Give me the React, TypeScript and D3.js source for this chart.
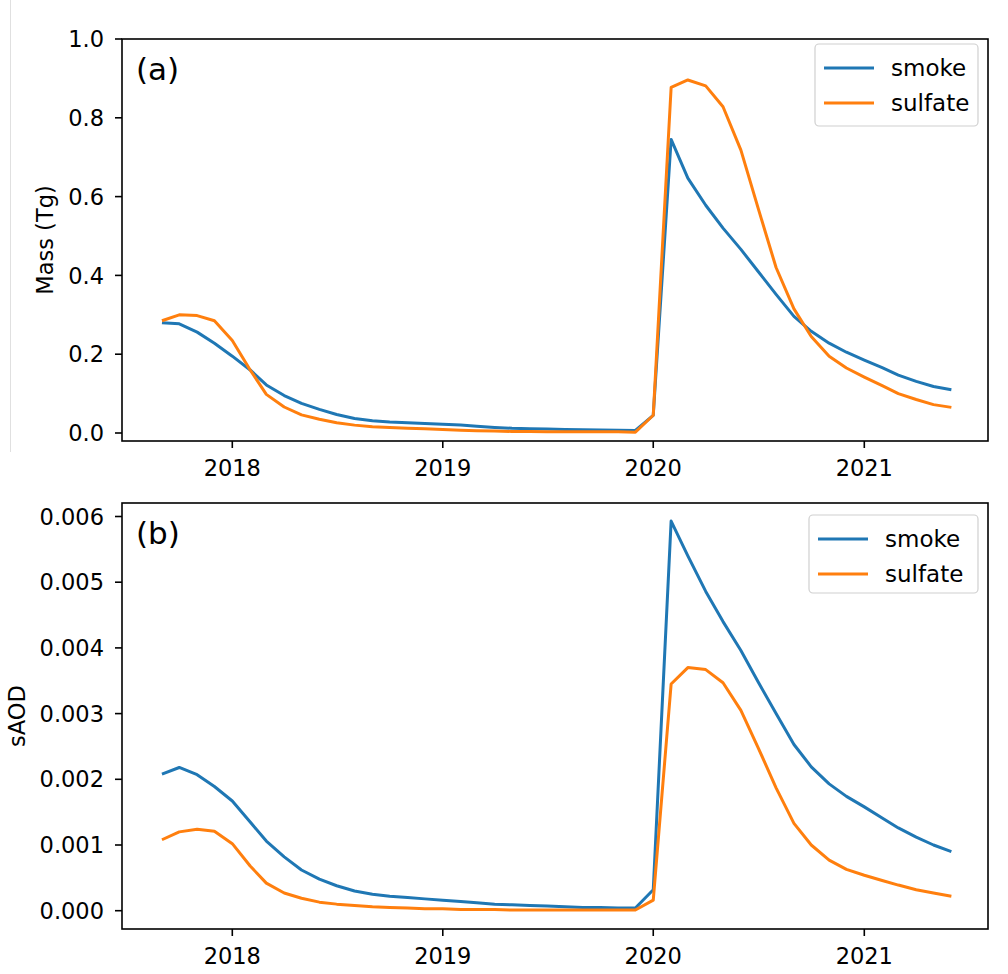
import * as d3 from "d3";
import React from "react";

// monthly values, Sep 2017 .. Jun 2021
const months = d3.timeMonths(new Date(2017, 8, 1), new Date(2021, 6, 1));

const massSmoke = [
  0.28, 0.277, 0.256, 0.228, 0.195, 0.16, 0.122, 0.095, 0.075, 0.06, 0.047, 0.037,
  0.031, 0.028, 0.026, 0.024, 0.022, 0.02, 0.017, 0.014, 0.012, 0.011, 0.01, 0.009,
  0.008, 0.0075, 0.007, 0.0065, 0.045, 0.745, 0.647, 0.578, 0.52, 0.466, 0.41, 0.352,
  0.296, 0.258, 0.228, 0.205, 0.185, 0.166, 0.147, 0.131, 0.118, 0.11,
];
const massSulfate = [
  0.285, 0.3, 0.298, 0.285, 0.235, 0.16, 0.098, 0.066, 0.046, 0.035, 0.026, 0.02,
  0.016, 0.014, 0.012, 0.011, 0.009, 0.007, 0.006, 0.005, 0.004, 0.004, 0.003, 0.003,
  0.003, 0.003, 0.003, 0.002, 0.045, 0.877, 0.896, 0.881, 0.828, 0.718, 0.57, 0.42,
  0.315, 0.245, 0.195, 0.165, 0.142, 0.12, 0.1, 0.085, 0.072, 0.065,
];
const aodSmoke = [
  0.00208, 0.00218, 0.00207, 0.00189, 0.00167, 0.00135, 0.00106, 0.00082, 0.00062,
  0.00048, 0.00038, 0.0003, 0.00025, 0.00022, 0.0002, 0.00018, 0.00016, 0.00014,
  0.00012, 0.0001, 0.00009, 0.00008, 0.00007, 0.00006, 0.00005, 0.00005, 0.00004,
  0.00004, 0.00032, 0.00593, 0.0054, 0.00486, 0.0044, 0.00396, 0.00348, 0.003,
  0.00253, 0.00219, 0.00193, 0.00174, 0.00158, 0.00141, 0.00126, 0.00112, 0.001, 0.0009,
];
const aodSulfate = [
  0.00108, 0.0012, 0.00124, 0.00121, 0.00102, 0.00068, 0.00042, 0.00027, 0.00019,
  0.00013, 0.0001, 0.00008, 0.00006, 0.00005, 0.00004, 0.00003, 0.00003, 0.00002,
  0.00002, 0.00002, 0.00001, 0.00001, 0.00001, 0.00001, 0.00001, 0.00001, 0.00001,
  0.00001, 0.00016, 0.00345, 0.0037, 0.00367, 0.00347, 0.00305, 0.00248, 0.00187,
  0.00133, 0.001, 0.00077, 0.00063, 0.00054, 0.00046, 0.00039, 0.00032, 0.00027, 0.00022,
];

const massTicks = [0, 0.2, 0.4, 0.6, 0.8, 1.0];
const aodTicks = [0, 0.001, 0.002, 0.003, 0.004, 0.005, 0.006];
const yearTicks = [2018, 2019, 2020, 2021];
const seriesNames = ["smoke", "sulfate"];
const colors = ["#1f77b4", "#ff7f0e"];

const font = "DejaVu Sans, sans-serif";
const left = 122;
const right = 988;

const x = d3
  .scaleTime()
  .domain([new Date(2018, 0, 1), new Date(2021, 0, 1)])
  .range([232.3, 864.3]);

type PanelProps = {
  top: number;
  bottom: number;
  y: d3.ScaleLinear<number, number>;
  yTicks: number[];
  fmt: (v: number) => string;
  series: number[][];
  tag: string;
  ylabel: string;
  ylabelX: number;
  legend: { x0: number; x1: number; y0: number; y1: number };
};

const Panel = (p: PanelProps) => {
  const line = d3
    .line<number>()
    .x((_, i) => x(months[i]))
    .y((d) => p.y(d));
  const lg = p.legend;
  const rowY = [lg.y0 + 24, lg.y0 + 59];
  return (
    <g>
      {p.series.map((s, i) => (
        <path
          key={i}
          d={line(s) || ""}
          fill="none"
          stroke={colors[i]}
          strokeWidth={3}
          strokeLinejoin="round"
        />
      ))}
      <rect
        x={left}
        y={p.top}
        width={right - left}
        height={p.bottom - p.top}
        fill="none"
        stroke="#000"
        strokeWidth={1.6}
      />
      {p.yTicks.map((t) => (
        <g key={t} transform={`translate(0,${p.y(t)})`}>
          <line x1={left - 7} x2={left} stroke="#000" strokeWidth={1.6} />
          <text
            x={left - 18}
            dy="0.36em"
            textAnchor="end"
            fontSize={22.5}
            fontFamily={font}
          >
            {p.fmt(t)}
          </text>
        </g>
      ))}
      {yearTicks.map((yr) => (
        <g key={yr} transform={`translate(${x(new Date(yr, 0, 1))},${p.bottom})`}>
          <line y1={0} y2={7} stroke="#000" strokeWidth={1.6} />
          <text y={35} textAnchor="middle" fontSize={22.5} fontFamily={font}>
            {yr}
          </text>
        </g>
      ))}
      <text
        transform={`translate(${p.ylabelX},${(p.top + p.bottom) / 2}) rotate(-90)`}
        textAnchor="middle"
        fontSize={22.5}
        fontFamily={font}
      >
        {p.ylabel}
      </text>
      <text x={136} y={p.top + 41} fontSize={31} fontFamily={font}>
        {p.tag}
      </text>
      <rect
        x={lg.x0}
        y={lg.y0}
        width={lg.x1 - lg.x0}
        height={lg.y1 - lg.y0}
        rx={4}
        fill="#fff"
        fillOpacity={0.8}
        stroke="#d0d0d0"
        strokeWidth={1.2}
      />
      {seriesNames.map((n, i) => (
        <g key={n}>
          <line
            x1={lg.x0 + 9}
            x2={lg.x0 + 59}
            y1={rowY[i]}
            y2={rowY[i]}
            stroke={colors[i]}
            strokeWidth={3}
          />
          <text
            x={lg.x0 + 76}
            y={rowY[i]}
            dy="0.35em"
            fontSize={23}
            fontFamily={font}
          >
            {n}
          </text>
        </g>
      ))}
    </g>
  );
};

export default function App() {
  const yMass = d3.scaleLinear().domain([0, 1]).range([433, 39]);
  const yAod = d3.scaleLinear().domain([0, 0.006]).range([910.7, 516.5]);
  return (
    <svg
      width={1008}
      height={974}
      style={{ position: "absolute", left: 0, top: 0, background: "#fff" }}
    >
      <rect width={1008} height={974} fill="#fff" />
      <line x1={10.5} x2={10.5} y1={0} y2={452} stroke="#e0e0e0" strokeWidth={1} />
      <Panel
        top={39}
        bottom={441}
        y={yMass}
        yTicks={massTicks}
        fmt={d3.format(".1f")}
        series={[massSmoke, massSulfate]}
        tag="(a)"
        ylabel="Mass (Tg)"
        ylabelX={53}
        legend={{ x0: 815, x1: 978, y0: 44, y1: 126 }}
      />
      <Panel
        top={503}
        bottom={929}
        y={yAod}
        yTicks={aodTicks}
        fmt={d3.format(".3f")}
        series={[aodSmoke, aodSulfate]}
        tag="(b)"
        ylabel="sAOD"
        ylabelX={25}
        legend={{ x0: 809, x1: 978, y0: 515, y1: 593 }}
      />
    </svg>
  );
}
